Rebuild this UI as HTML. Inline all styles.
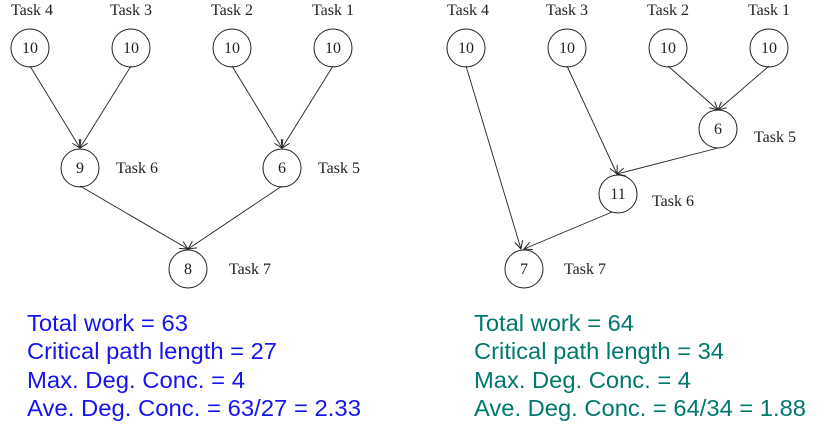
<!DOCTYPE html>
<html><head><meta charset="utf-8"><style>
html,body{margin:0;padding:0;background:#fff;width:840px;height:427px;overflow:hidden}
</style></head><body>
<svg width="840" height="427" viewBox="0 0 840 427" xmlns="http://www.w3.org/2000/svg">
<defs><marker id="a" markerWidth="10" markerHeight="10" refX="9" refY="5" orient="auto" markerUnits="userSpaceOnUse"><path d="M1,1 L9,5 L1,9" fill="none" stroke="#222" stroke-width="1"/></marker></defs>
<g fill="none" stroke="#222" stroke-width="1">
<circle cx="30" cy="48" r="19"/><circle cx="131" cy="48" r="19"/><circle cx="232" cy="48" r="19"/><circle cx="333" cy="48" r="19"/>
<circle cx="80" cy="168" r="19"/><circle cx="282" cy="168" r="19"/><circle cx="188" cy="269" r="19"/>
<circle cx="466" cy="48" r="19"/><circle cx="567" cy="48" r="19"/><circle cx="668" cy="48" r="19"/><circle cx="769" cy="48" r="19"/>
<circle cx="718" cy="129" r="19"/><circle cx="618" cy="194" r="19"/><circle cx="524" cy="269" r="19"/>
</g>
<g stroke="#222" stroke-width="0.9" marker-end="url(#a)">
<line x1="30" y1="66" x2="80" y2="148"/><line x1="131" y1="66" x2="80" y2="148"/>
<line x1="232" y1="66" x2="282" y2="148"/><line x1="333" y1="66" x2="282" y2="148"/>
<line x1="80" y1="186" x2="188" y2="249"/><line x1="282" y1="186" x2="188" y2="249"/>
<line x1="466" y1="66" x2="521" y2="249"/><line x1="567" y1="66" x2="617" y2="174"/>
<line x1="668" y1="66" x2="718" y2="110"/><line x1="769" y1="66" x2="718" y2="110"/>
<line x1="718" y1="148" x2="617" y2="174"/><line x1="612" y1="212" x2="524" y2="249"/>
</g>
<g font-family="Liberation Serif, serif" font-size="16" fill="#222" text-anchor="middle">
<text x="30" y="53">10</text><text x="131" y="53">10</text><text x="232" y="53">10</text><text x="333" y="53">10</text>
<text x="80" y="173">9</text><text x="282" y="173">6</text><text x="188" y="274">8</text>
<text x="466" y="53">10</text><text x="567" y="53">10</text><text x="668" y="53">10</text><text x="769" y="53">10</text>
<text x="718" y="134">6</text><text x="618" y="199">11</text><text x="524" y="274">7</text>
<text x="32" y="15">Task 4</text><text x="131" y="15">Task 3</text><text x="232" y="15">Task 2</text><text x="333" y="15">Task 1</text>
<text x="468" y="15">Task 4</text><text x="567" y="15">Task 3</text><text x="668" y="15">Task 2</text><text x="769" y="15">Task 1</text>
</g>
<g font-family="Liberation Serif, serif" font-size="16" fill="#222">
<text x="116" y="173">Task 6</text><text x="318" y="173">Task 5</text><text x="229" y="274">Task 7</text>
<text x="754" y="142">Task 5</text><text x="652" y="206">Task 6</text><text x="564" y="274">Task 7</text>
</g>
<g font-family="Liberation Sans, Arial, sans-serif" font-size="23" fill="#1414f0" lengthAdjust="spacingAndGlyphs">
<text x="27" y="331" textLength="161" lengthAdjust="spacingAndGlyphs">Total work = 63</text>
<text x="27" y="359" textLength="250" lengthAdjust="spacingAndGlyphs">Critical path length = 27</text>
<text x="27" y="388" textLength="218" lengthAdjust="spacingAndGlyphs">Max. Deg. Conc. = 4</text>
<text x="27" y="416" textLength="334" lengthAdjust="spacingAndGlyphs">Ave. Deg. Conc. = 63/27 = 2.33</text>
</g>
<g font-family="Liberation Sans, Arial, sans-serif" font-size="23" fill="#00786e">
<text x="474" y="331" textLength="160" lengthAdjust="spacingAndGlyphs">Total work = 64</text>
<text x="474" y="359" textLength="250" lengthAdjust="spacingAndGlyphs">Critical path length = 34</text>
<text x="474" y="388" textLength="217" lengthAdjust="spacingAndGlyphs">Max. Deg. Conc. = 4</text>
<text x="474" y="416" textLength="332" lengthAdjust="spacingAndGlyphs">Ave. Deg. Conc. = 64/34 = 1.88</text>
</g>
</svg>
</body></html>
